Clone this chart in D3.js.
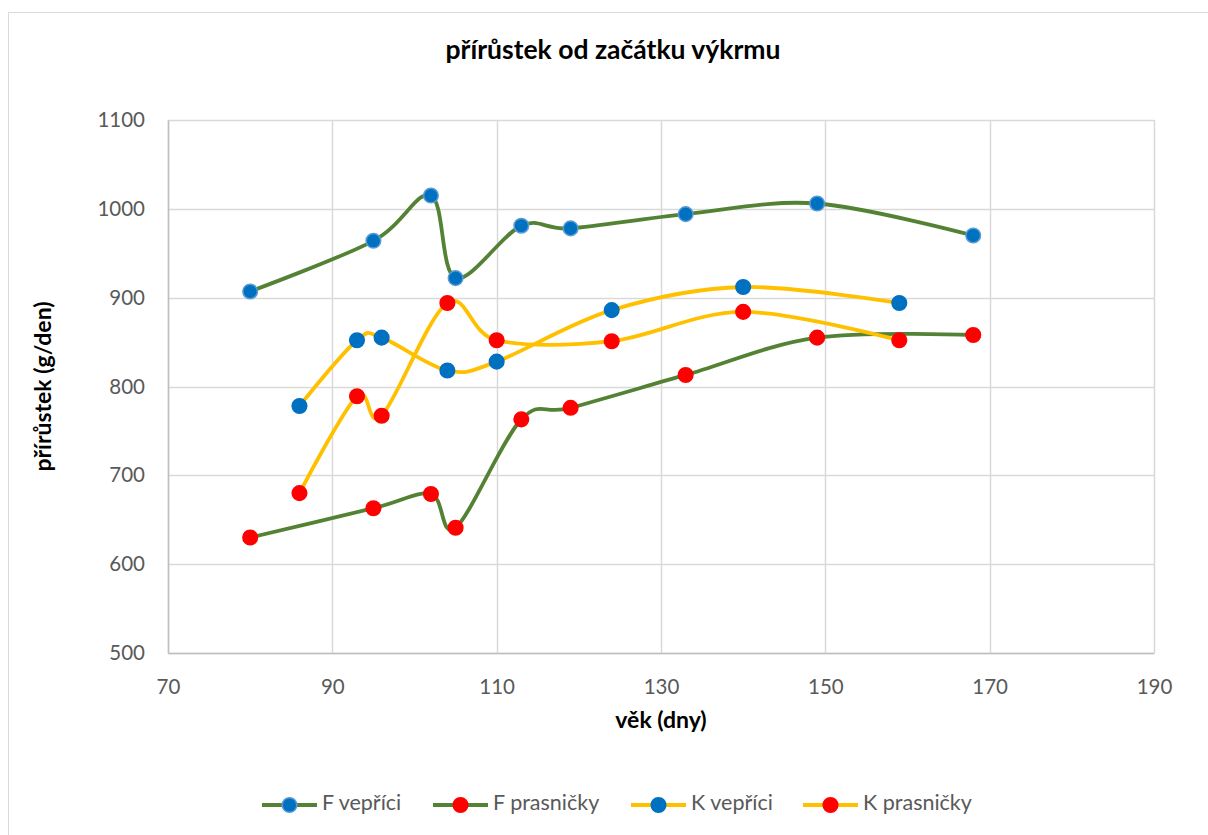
<!DOCTYPE html>
<html>
<head>
<meta charset="utf-8">
<script src="https://cdn.jsdelivr.net/npm/d3@7"></script>
<style>
  html, body { margin: 0; padding: 0; background: #fff; }
  svg { display: block; font-family: Lato, "Open Sans", sans-serif; }
</style>
</head>
<body>
<svg id="chart" width="1208" height="835"></svg>
<script>
// Age (days) and daily gain (g/day) per group
const fVepriciAge   = [80, 95, 102, 105, 113, 119, 133, 149, 168];
const fVepriciGain  = [907, 964, 1015, 922, 981, 978, 994, 1006, 970];
const fPrasnickyAge  = [80, 95, 102, 105, 113, 119, 133, 149, 168];
const fPrasnickyGain = [630, 663, 679, 641, 763, 776, 813, 855, 858];
const kVepriciAge   = [86, 93, 96, 104, 110, 124, 140, 159];
const kVepriciGain  = [778, 852, 855, 818, 828, 886, 912, 894];
const kPrasnickyAge  = [86, 93, 96, 104, 110, 124, 140, 159];
const kPrasnickyGain = [680, 789, 767, 894, 852, 851, 884, 852];

const seriesNames = ["F vepříci", "F prasničky", "K vepříci", "K prasničky"];
const xTicks = [70, 90, 110, 130, 150, 170, 190];
const yTicks = [500, 600, 700, 800, 900, 1000, 1100];

const titleText = "přírůstek od začátku výkrmu";
const xTitle = "věk (dny)";
const yTitle = "přírůstek (g/den)";

const GREEN = "#548235", YELLOW = "#FFC000", BLUE = "#0070C0", RED = "#FF0000";

const series = [
  { name: seriesNames[0], x: fVepriciAge,   y: fVepriciGain,   line: GREEN,  fill: BLUE, stroke: "#5B9BD5" },
  { name: seriesNames[1], x: fPrasnickyAge,  y: fPrasnickyGain, line: GREEN,  fill: RED,  stroke: RED },
  { name: seriesNames[2], x: kVepriciAge,   y: kVepriciGain,   line: YELLOW, fill: BLUE, stroke: BLUE },
  { name: seriesNames[3], x: kPrasnickyAge,  y: kPrasnickyGain, line: YELLOW, fill: RED,  stroke: RED }
];

const svg = d3.select("#chart");

// chart frame
svg.append("rect")
  .attr("x", 8.5).attr("y", 12.5).attr("width", 1210).attr("height", 830)
  .attr("fill", "#fff").attr("stroke", "#D9D9D9").attr("stroke-width", 1);

const plot = { left: 168, right: 1154, top: 120, bottom: 653 };

const x = d3.scaleLinear().domain([70, 190]).range([plot.left, plot.right]);
const y = d3.scaleLinear().domain([500, 1100]).range([plot.bottom, plot.top]);

// gridlines
const grid = svg.append("g");
grid.selectAll("line.h").data(yTicks).join("line")
  .attr("x1", plot.left).attr("x2", plot.right)
  .attr("y1", d => Math.round(y(d)) + 0.5).attr("y2", d => Math.round(y(d)) + 0.5)
  .attr("stroke", "#D9D9D9").attr("stroke-width", 1.5);
grid.selectAll("line.v").data(xTicks).join("line")
  .attr("y1", plot.top).attr("y2", plot.bottom)
  .attr("x1", d => Math.round(x(d)) + 0.5).attr("x2", d => Math.round(x(d)) + 0.5)
  .attr("stroke", "#D9D9D9").attr("stroke-width", 1.5);

// axes
const xAxis = svg.append("g")
  .attr("transform", `translate(0,${plot.bottom})`)
  .call(d3.axisBottom(x).tickValues(xTicks).tickFormat(d3.format("d")).tickSize(0).tickPadding(26));
const yAxis = svg.append("g")
  .attr("transform", `translate(${plot.left},0)`)
  .call(d3.axisLeft(y).tickValues(yTicks).tickFormat(d3.format("d")).tickSize(0).tickPadding(23));
[xAxis, yAxis].forEach(g => {
  g.select(".domain").attr("stroke", "#BFBFBF").attr("stroke-width", 1.5);
  g.selectAll("text").attr("fill", "#595959").style("font-size", "20.5px")
    .style("font-family", "Lato, sans-serif");
});

// smoothed lines and markers
const lineGen = d3.line().curve(d3.curveCatmullRom.alpha(0));
series.forEach(s => {
  const pts = s.x.map((v, i) => [x(v), y(s.y[i])]);
  svg.append("path")
    .attr("d", lineGen(pts))
    .attr("fill", "none").attr("stroke", s.line)
    .attr("stroke-width", 3.8).attr("stroke-linejoin", "round").attr("stroke-linecap", "round");
});
series.forEach(s => {
  svg.append("g").selectAll("circle").data(s.x.map((v, i) => [v, s.y[i]])).join("circle")
    .attr("cx", d => x(d[0])).attr("cy", d => y(d[1])).attr("r", 7.3)
    .attr("fill", s.fill).attr("stroke", s.stroke).attr("stroke-width", 1.5);
});

// titles
svg.append("text").attr("x", 613).attr("y", 52).attr("text-anchor", "middle")
  .attr("dominant-baseline", "middle")
  .style("font-size", "26.5px").style("font-weight", "bold").attr("fill", "#000")
  .text(titleText);
svg.append("text").attr("x", (plot.left + plot.right) / 2).attr("y", 722)
  .attr("text-anchor", "middle").attr("dominant-baseline", "middle")
  .style("font-size", "23px").style("font-weight", "bold").attr("fill", "#000")
  .text(xTitle);
svg.append("text")
  .attr("transform", `translate(45,${(plot.top + plot.bottom) / 2}) rotate(-90)`)
  .attr("text-anchor", "middle").attr("dominant-baseline", "middle")
  .style("font-size", "23px").style("font-weight", "bold").attr("fill", "#000")
  .text(yTitle);

// legend
const legendX = [262, 433, 631, 803];
const legend = svg.append("g");
series.forEach((s, i) => {
  const g = legend.append("g").attr("transform", `translate(${legendX[i]},805)`);
  g.append("line").attr("x1", 0).attr("x2", 55).attr("y1", 0).attr("y2", 0)
    .attr("stroke", s.line).attr("stroke-width", 3.8);
  g.append("circle").attr("cx", 27.5).attr("cy", 0).attr("r", 7.3)
    .attr("fill", s.fill).attr("stroke", s.stroke).attr("stroke-width", 1.5);
  g.append("text").attr("x", 60).attr("y", 0).attr("dominant-baseline", "middle")
    .style("font-size", "21.5px").attr("fill", "#595959").text(s.name);
});
</script>
</body>
</html>
